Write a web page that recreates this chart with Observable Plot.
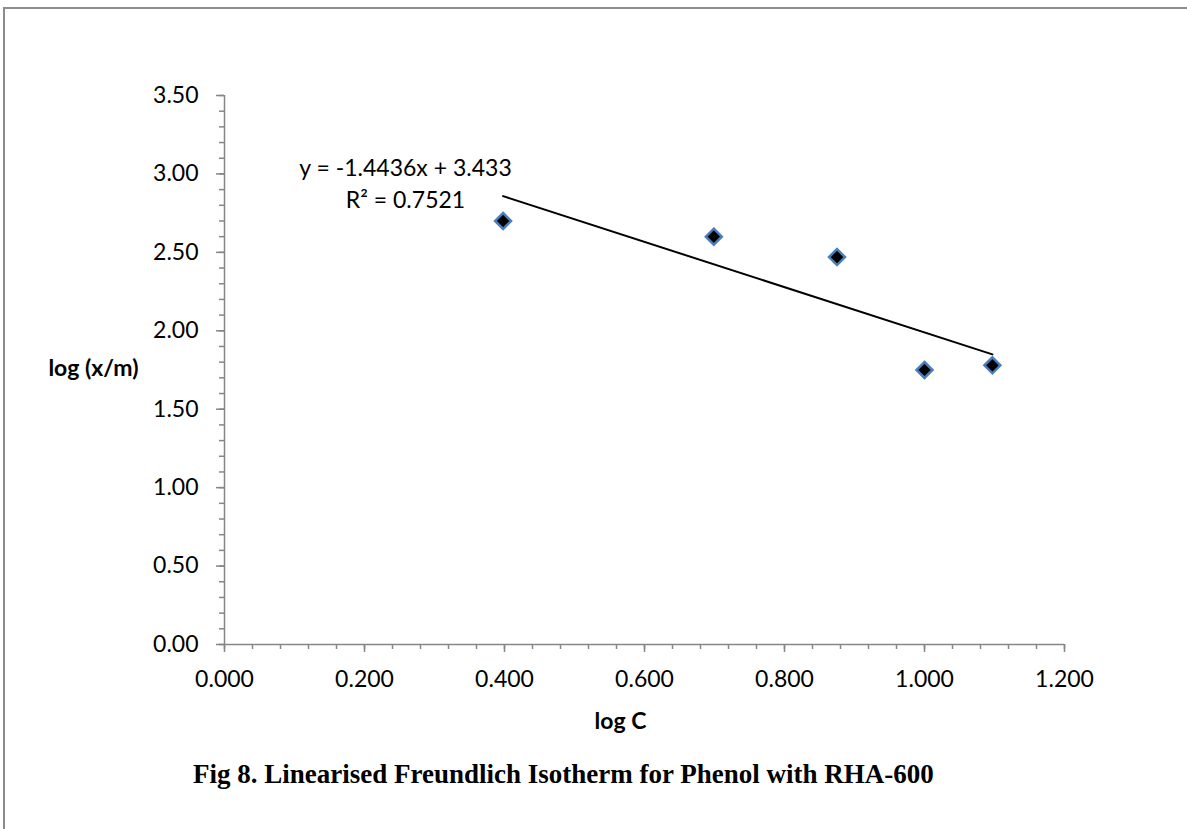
<!DOCTYPE html>
<html>
<head>
<meta charset="utf-8">
<script src="https://cdn.jsdelivr.net/npm/d3@7"></script>
<script src="https://cdn.jsdelivr.net/npm/@observablehq/plot@0.6"></script>
<style>
  html, body { margin: 0; padding: 0; background: #fff; }
  #wrap { position: relative; width: 1187px; height: 829px; overflow: hidden; background: #fff; }
  #chart { position: absolute; left: 0; top: 0; }
  .frame-top { position: absolute; left: 3px; top: 7px; width: 1184px; height: 2px; background: #8c8c8c; }
  .frame-left { position: absolute; left: 3px; top: 7px; width: 2px; height: 822px; background: #8c8c8c; }
  #caption { position: absolute; left: 193px; top: 761px; font-family: "Liberation Serif", "Times New Roman", serif; font-weight: bold; font-size: 27px; line-height: 27px; white-space: nowrap; color: #000; }
</style>
</head>
<body>
<div id="wrap">
  <div id="chart"></div>
  <div class="frame-top"></div>
  <div class="frame-left"></div>
  <div id="caption"></div>
</div>
<script>
// Data
const logC = [0.398, 0.699, 0.875, 1.000, 1.097];
const logXM = [2.70, 2.60, 2.47, 1.75, 1.78];
// Excel linear trendline reported on the chart
const slope = -1.4436;
const intercept = 3.433;
const rSquared = 0.7521;
const equationText = "y = -1.4436x + 3.433";
const rSquaredText = "R² = 0.7521";
// Axes
const xTicks = [0, 0.2, 0.4, 0.6, 0.8, 1.0, 1.2];
const yTicks = [0, 0.5, 1.0, 1.5, 2.0, 2.5, 3.0, 3.5];
const xMinorTicks = d3.range(0, 61).map(i => i * 0.04).filter(v => v <= 1.2001);
const yMinorTicks = d3.range(0, 36).map(i => i * 0.1);
const xLabel = "log C";
const yLabel = "log (x/m)";
const captionText = "Fig 8. Linearised Freundlich Isotherm for Phenol with RHA-600";

const points = logC.map((x, i) => ({x, y: logXM[i]}));
const xExt = d3.extent(logC);
const trend = xExt.map(x => ({x, y: intercept + slope * x}));

const gray = "#868686";

const chart = Plot.plot({
  width: 1187,
  height: 760,
  marginLeft: 224,
  marginRight: 123,
  marginTop: 95,
  marginBottom: 116,
  x: {domain: [0, 1.2]},
  y: {domain: [0, 3.5]},
  style: {fontFamily: "Lato, 'Open Sans', sans-serif", fontSize: "23px", color: "#000", background: "transparent", overflow: "visible"},
  marks: [
    Plot.axisX({ticks: xMinorTicks, tickSize: 5, fill: "none", label: null, stroke: gray, strokeWidth: 1.5}),
    Plot.axisX({ticks: xTicks, tickSize: 8, tickPadding: 18, tickFormat: d3.format(".3f"), label: null, stroke: gray, strokeWidth: 1.5, fill: "#000"}),
    Plot.axisY({ticks: yMinorTicks, tickSize: 5, fill: "none", label: null, stroke: gray, strokeWidth: 1.5}),
    Plot.axisY({ticks: yTicks, tickSize: 8, tickPadding: 18, tickFormat: d3.format(".2f"), label: null, stroke: gray, strokeWidth: 1.5, fill: "#000"}),
    Plot.ruleY([0], {stroke: gray, strokeWidth: 1.5}),
    Plot.ruleX([0], {stroke: gray, strokeWidth: 1.5}),
    Plot.line(trend, {x: "x", y: "y", stroke: "#000", strokeWidth: 2}),
    Plot.dot(points, {x: "x", y: "y", symbol: "diamond2", r: 7.2, fill: "#000", stroke: "#4a7ebb", strokeWidth: 2.5}),
    Plot.text([equationText + "\n" + rSquaredText], {frameAnchor: "top-left", dx: 181, dy: 86, textAnchor: "middle", lineAnchor: "middle", lineHeight: 1.39, fontSize: 23, fill: "#000"}),
    Plot.text([yLabel], {frameAnchor: "left", dx: -86, dy: -1, textAnchor: "end", fontWeight: "bold", fontSize: 23, fill: "#000"}),
    Plot.text([xLabel], {frameAnchor: "bottom", dx: -24, dy: 84, textAnchor: "middle", fontWeight: "bold", fontSize: 23, fill: "#000"})
  ]
});
document.getElementById("chart").appendChild(chart);
document.getElementById("caption").textContent = captionText;
</script>
</body>
</html>
